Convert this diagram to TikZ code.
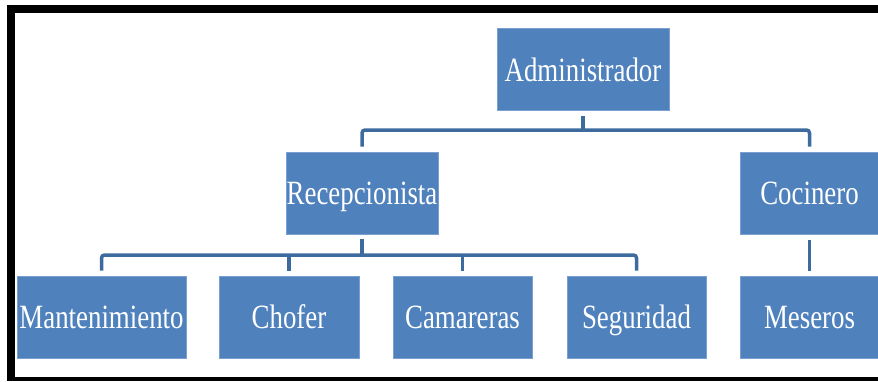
\documentclass[tikz,border=0pt]{standalone}
\usepackage{fontspec}
\setmainfont{Liberation Serif}
\definecolor{boxfill}{HTML}{4F81BD}
\definecolor{boxedge}{HTML}{7A9FD0}
\definecolor{linecol}{HTML}{3D6B9E}
\newcommand{\lbl}[1]{\scalebox{0.79}[1]{\fontsize{34}{36}\selectfont #1}}
\tikzset{
  orgbox/.style={rectangle, fill=boxfill, draw=boxedge, line width=0.6pt, text=white,
    inner sep=0pt, minimum height=82pt, text height=23pt, text depth=0pt},
  conn/.style={draw=linecol, line width=3.5pt, rounded corners=3pt},
  framebar/.style={fill=black}
}
\begin{document}
\begin{tikzpicture}[x=1pt,y=-1pt]
\useasboundingbox (0,0) rectangle (878,381);
% frame
\fill[framebar] (7,5) rectangle (878,13);
\fill[framebar] (7,5) rectangle (15,381);
\fill[framebar] (7,377) rectangle (878,381);
% nodes
\node[orgbox, minimum width=172pt] (admin) at (583,69.5) {\lbl{Administrador}};
\node[orgbox, minimum width=152pt] (recep) at (362,193) {\lbl{Recepcionista}};
\node[orgbox, minimum width=139pt] (coc) at (809.5,193) {\lbl{Cocinero}};
\node[orgbox, minimum width=169pt] (mant) at (101.5,317) {\lbl{Mantenimiento}};
\node[orgbox, minimum width=140pt] (chof) at (289,317) {\lbl{Chofer}};
\node[orgbox, minimum width=139pt] (cam) at (462.5,317) {\lbl{Camareras}};
\node[orgbox, minimum width=139pt] (seg) at (636.5,317) {\lbl{Seguridad}};
\node[orgbox, minimum width=139pt] (mes) at (809.5,317) {\lbl{Meseros}};
% bus coordinates
\coordinate (busA) at (583,130);
\coordinate (busB) at (362,255);
% upper level
\draw[conn] ([yshift=-5pt]admin.south) -- (busA);
\draw[conn] ([yshift=5pt]recep.north) |- (busA) -| ([yshift=5pt]coc.north);
% lower level
\draw[conn] ([yshift=-5pt]recep.south) -- (busB);
\draw[conn] ([yshift=5pt]mant.north) |- (busB) -| ([yshift=5pt]seg.north);
\draw[conn] (busB -| chof) -- ([yshift=5pt]chof.north);
\draw[conn] (busB -| cam) -- ([yshift=5pt]cam.north);
% cocinero to meseros
\draw[conn] ([yshift=-6pt]coc.south) -- ([yshift=5pt]mes.north);
\end{tikzpicture}
\end{document}
